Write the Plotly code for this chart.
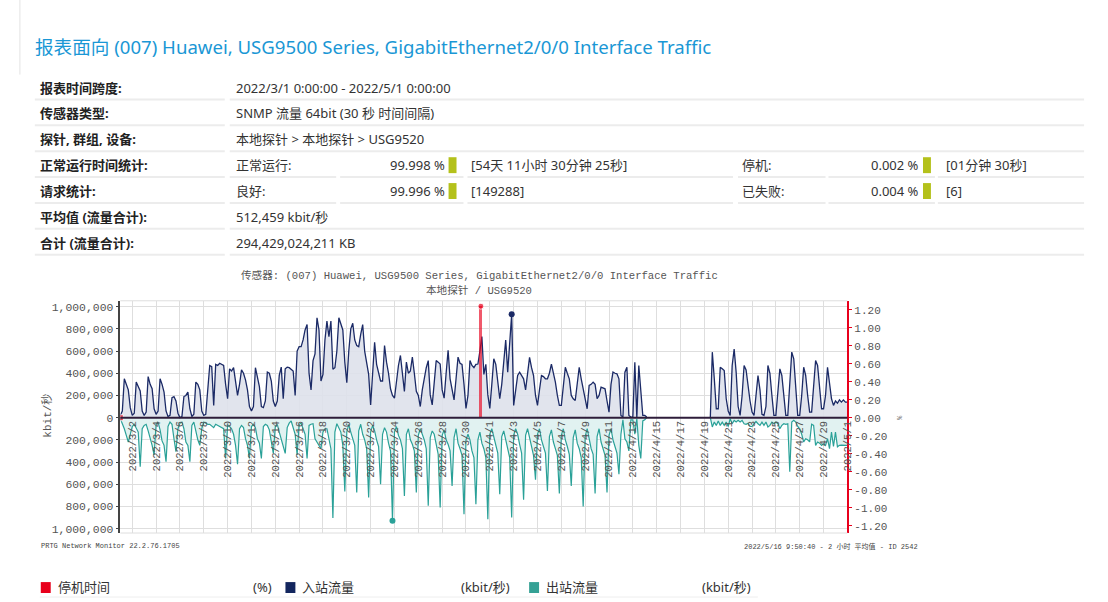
import plotly.graph_objects as go
import pandas as pd
import numpy as np

# ---------------- data ----------------
report_title = "报表面向 (007) Huawei, USG9500 Series, GigabitEthernet2/0/0 Interface Traffic"
table_labels = ["报表时间跨度:", "传感器类型:", "探针, 群组, 设备:", "正常运行时间统计:",
                "请求统计:", "平均值 (流量合计):", "合计 (流量合计):"]
table_values = ["2022/3/1 0:00:00 - 2022/5/1 0:00:00", "SNMP 流量 64bit (30 秒 时间间隔)",
                "本地探针 > 本地探针 > USG9520", None, None, "512,459 kbit/秒", "294,429,024,211 KB"]
uptime_row = ["正常运行:", "99.998 %", "[54天 11小时 30分钟 25秒]", "停机:", "0.002 %", "[01分钟 30秒]"]
request_row = ["良好:", "99.996 %", "[149288]", "已失败:", "0.004 %", "[6]"]

chart_title = ["传感器: (007) Huawei, USG9500 Series, GigabitEthernet2/0/0 Interface Traffic",
               "本地探针 / USG9520"]
footer_left = "PRTG Network Monitor 22.2.76.1705"
footer_right = "2022/5/16 9:50:40 - 2 小时 平均值 - ID 2542"
legend_names = ["停机时间", "入站流量", "出站流量"]
legend_units = ["(%)", "(kbit/秒)", "(kbit/秒)"]

x_tick_labels = ["2022/3/2", "2022/3/4", "2022/3/6", "2022/3/8", "2022/3/10", "2022/3/12",
                 "2022/3/14", "2022/3/16", "2022/3/18", "2022/3/20", "2022/3/22", "2022/3/24",
                 "2022/3/26", "2022/3/28", "2022/3/30", "2022/4/1", "2022/4/3", "2022/4/5",
                 "2022/4/7", "2022/4/9", "2022/4/11", "2022/4/13", "2022/4/15", "2022/4/17",
                 "2022/4/19", "2022/4/21", "2022/4/23", "2022/4/25", "2022/4/27", "2022/4/29",
                 "2022/5/1"]
left_ticks = [-1000000, -800000, -600000, -400000, -200000, 0, 200000, 400000, 600000, 800000, 1000000]
right_ticks = [-1.2, -1.0, -0.8, -0.6, -0.4, -0.2, 0.0, 0.2, 0.4, 0.6, 0.8, 1.0, 1.2]

period_start = "2022-03-01 00:00"
period_end = "2022-05-01 00:00"

# inbound traffic, thousand kbit/s, samples at 0h,4h,8h,12h,16h,20h of each day (3/1 .. 4/30)
N = None
inbound_k = [
    [20, 60, 350, 300, 250, 90],      # 3/1
    [20, 40, 320, 280, 240, 60],      # 3/2
    [20, 50, 370, 300, 260, 80],      # 3/3
    [30, 60, 350, 300, 230, 60],      # 3/4
    [10, 20, 180, 190, 150, 40],      # 3/5
    [0, 10, 190, 200, 230, 80],       # 3/6
    [10, 30, 320, 300, 250, 60],      # 3/7
    [20, 30, 300, 470, 460, 110],     # 3/8
    [480, 470, 490, 480, 470, 300],   # 3/9
    [170, 440, 420, 450, 300, 200],   # 3/10
    [300, 430, 400, 340, 250, 100],   # 3/11
    [60, 100, 450, 350, 280, 100],    # 3/12
    [90, 150, 410, 400, 330, 150],    # 3/13
    [100, 150, 380, 455, 170, 440],   # 3/14
    [455, 450, 430, 420, 200, 600],   # 3/15
    [640, 640, 700, 790, 840, 400],   # 3/16
    [250, 514, 575, 900, 790, 330],   # 3/17
    [390, 700, 870, 730, 870, 437],   # 3/18
    [450, 600, 900, 850, 790, 500],   # 3/19
    [314, 600, 800, 850, 700, 650],   # 3/20
    [640, 750, 838, 600, 480, 390],   # 3/21
    [114, 400, 680, 480, 400, 330],   # 3/22
    [330, 650, 500, 400, 260, 200],   # 3/23
    [175, 350, 470, 560, 400, 237],   # 3/24
    [500, 400, 420, 545, 400, 237],   # 3/25
    [200, 100, 250, 360, 450, 514],   # 3/26
    [205, 114, 300, 514, 500, 483],   # 3/27
    [250, 175, 400, 607, 350, 237],   # 3/28
    [160, 350, 545, 490, 480, 300],   # 3/29
    [83, 200, 514, 470, 450, 480],    # 3/30
    [483, 600, 730, 390, 480, 205],   # 3/31
    [83, 300, 530, 480, 300, 170],    # 4/1
    [300, 514, 700, 410, 700, 931],   # 4/2
    [110, 250, 380, 410, 380, 350],   # 4/3
    [250, 400, 543, 450, 380, 200],   # 4/4
    [110, 250, 380, 370, 350, 350],   # 4/5
    [400, 483, 400, 320, 200, 110],   # 4/6
    [110, 300, 454, 400, 350, 200],   # 4/7
    [170, 155, 300, 454, 350, 260],   # 4/8
    [150, 80, 290, 300, 320, 300],    # 4/9
    [170, 200, 275, 270, 260, 150],   # 4/10
    [50, 300, 410, 400, 395, 350],    # 4/11
    [20, 5, 410, 454, 20, 5],         # 4/12
    [5, 500, 0, 470, 200, 20],        # 4/13
    [20, 5, N, N, N, N],              # 4/14
    [N, N, N, N, N, N],               # 4/15
    [N, N, N, N, N, N],               # 4/16
    [N, N, N, N, N, N],               # 4/17
    [N, N, N, N, N, N],               # 4/18
    [N, N, N, 0, 590, 350],           # 4/19
    [80, 80, 454, 440, 425, 170],     # 4/20
    [60, 20, 470, 618, 410, 100],     # 4/21
    [20, 200, 470, 430, 280, 150],    # 4/22
    [50, 20, 200, 380, 250, 30],      # 4/23
    [20, 100, 470, 400, 200, 20],     # 4/24
    [20, 200, 440, 380, 200, 20],     # 4/25
    [20, 300, 590, 530, 250, 20],     # 4/26
    [20, 200, 454, 380, 200, 50],     # 4/27
    [50, 300, 515, 470, 250, 80],     # 4/28
    [80, 200, 454, 330, 170, 110],    # 4/29
    [150, 130, 160, 140, 160, 140],   # 4/30
]
inbound_end_k = 140  # 5/1 0h

# outbound traffic, thousand kbit/s, same sampling
outbound_k = [
    [10, 50, 100, 160, 220, 150],     # 3/1
    [80, 60, 90, 130, 442, 100],      # 3/2
    [70, 60, 120, 180, 250, 337],     # 3/3
    [60, 40, 110, 210, 250, 397],     # 3/4
    [80, 40, 60, 190, 307, 100],      # 3/5
    [50, 40, 100, 220, 250, 397],     # 3/6
    [70, 40, 130, 200, 250, 100],     # 3/7
    [40, 50, 60, 60, 80, 90],         # 3/8
    [60, 70, 80, 90, 100, 367],       # 3/9
    [70, 80, 100, 150, 250, 420],     # 3/10
    [100, 70, 90, 190, 250, 367],     # 3/11
    [80, 60, 90, 190, 230, 367],      # 3/12
    [80, 60, 70, 110, 200, 322],      # 3/13
    [80, 60, 130, 200, 250, 322],     # 3/14
    [90, 50, 30, 80, 150, 337],       # 3/15
    [60, 50, 100, 150, 367, 70],      # 3/16
    [60, 55, 190, 220, 250, 280],     # 3/17
    [130, 100, 100, 200, 280, 905],   # 3/18
    [130, 55, 100, 130, 250, 665],    # 3/19
    [130, 60, 130, 190, 250, 675],    # 3/20
    [120, 60, 150, 200, 280, 720],    # 3/21
    [130, 70, 120, 200, 260, 600],    # 3/22
    [150, 90, 130, 230, 300, 930],    # 3/23
    [130, 80, 160, 200, 280, 705],    # 3/24
    [150, 100, 200, 240, 300, 675],   # 3/25
    [160, 100, 150, 200, 280, 795],   # 3/26
    [180, 120, 150, 230, 330, 810],   # 3/27
    [160, 110, 200, 240, 300, 615],   # 3/28
    [180, 100, 230, 280, 340, 870],   # 3/29
    [200, 150, 200, 300, 360, 780],   # 3/30
    [200, 130, 230, 280, 360, 915],   # 3/31
    [150, 100, 180, 260, 320, 690],   # 4/1
    [170, 120, 200, 280, 360, 900],   # 4/2
    [160, 100, 150, 240, 320, 740],   # 4/3
    [160, 100, 180, 280, 340, 560],   # 4/4
    [150, 100, 200, 260, 320, 660],   # 4/5
    [170, 110, 220, 280, 340, 684],   # 4/6
    [160, 100, 200, 260, 330, 615],   # 4/7
    [180, 110, 230, 280, 360, 800],   # 4/8
    [170, 100, 200, 280, 330, 684],   # 4/9
    [170, 100, 220, 280, 340, 675],   # 4/10
    [160, 100, 200, 260, 320, 510],   # 4/11
    [150, 20, 190, 220, 300, 20],     # 4/12
    [20, 150, 10, 250, 367, 30],      # 4/13
    [20, 0, N, N, N, N],              # 4/14
    [N, N, N, N, N, N],               # 4/15
    [N, N, N, N, N, N],               # 4/16
    [N, N, N, N, N, N],               # 4/17
    [N, N, N, N, N, N],               # 4/18
    [N, N, N, 0, 84, 40],             # 4/19
    [70, 30, 70, 40, 70, 40],         # 4/20
    [80, 10, 55, 25, 40, 25],         # 4/21
    [40, 25, 55, 60, 50, 80],         # 4/22
    [80, 55, 35, 55, 70, 40],         # 4/23
    [70, 40, 85, 70, 40, 55],         # 4/24
    [40, 55, 100, 70, 55, 60],        # 4/25
    [55, 487, 40, 25, 40, 80],        # 4/26
    [100, 150, 218, 190, 200, 218],   # 4/27
    [60, 70, 250, 220, 230, 250],     # 4/28
    [235, 250, 190, 280, 130, 260],   # 4/29
    [130, 263, 250, 248, 250, 250],   # 4/30
]
outbound_end_k = 250  # 5/1 0h

downtime_time = ["2022-03-01 00:00", "2022-03-31 06:00"]
downtime_pct = [0.0, 1.24]

# ---------------- build series ----------------
times = pd.date_range(period_start, period_end, freq="4h")
inbound = [v * 1000 if v is not None else None for day in inbound_k for v in day] + [inbound_end_k * 1000]
outbound = [v * 1000 if v is not None else None for day in outbound_k for v in day] + [outbound_end_k * 1000]
outbound_neg = [-v if v is not None else None for v in outbound]

W, H = 1108, 602
def px(x): return x / W
def py(y): return 1 - y / H

SANS = "Noto Sans, Noto Sans CJK SC, sans-serif"
MONO = "Liberation Mono, Noto Sans CJK SC, monospace"
C_IN = "#1b2a66"
C_OUT = "#2aa198"
C_RED = "#e8001c"
GRID = "#dedede"

fig = go.Figure()

fig.add_trace(go.Scatter(x=times, y=outbound_neg, mode="lines", fill="tozeroy",
                         fillcolor="rgba(222,241,240,0.9)", line=dict(color=C_OUT, width=1.2),
                         connectgaps=False, hoverinfo="skip"))
fig.add_trace(go.Scatter(x=times, y=inbound, mode="lines", fill="tozeroy",
                         fillcolor="rgba(222,225,235,0.9)", line=dict(color=C_IN, width=1.3),
                         connectgaps=False, hoverinfo="skip"))

# downtime (right axis)
dt_times = pd.to_datetime(downtime_time)
fig.add_trace(go.Bar(x=dt_times, y=downtime_pct, yaxis="y2", width=7 * 3600 * 1000,
                     marker=dict(color="rgba(232,0,28,0.65)", line=dict(width=0)), hoverinfo="skip"))
fig.add_trace(go.Scatter(x=dt_times, y=downtime_pct, yaxis="y2", mode="markers",
                         marker=dict(color=C_RED, size=[6, 6], symbol=["square", "circle"]),
                         hoverinfo="skip"))

# max markers
in_vals = np.array([np.nan if v is None else v for v in inbound], dtype=float)
out_vals = np.array([np.nan if v is None else v for v in outbound], dtype=float)
i_in = int(np.nanargmax(in_vals))
i_out = int(np.nanargmax(out_vals))
fig.add_trace(go.Scatter(x=[times[i_in]], y=[inbound[i_in]], mode="markers",
                         marker=dict(color=C_IN, size=6), hoverinfo="skip"))
fig.add_trace(go.Scatter(x=[times[i_out]], y=[outbound_neg[i_out]], mode="markers",
                         marker=dict(color=C_OUT, size=6), hoverinfo="skip"))

# helper trace for the label axis
tick_dates = pd.to_datetime(x_tick_labels, format="%Y/%m/%d")
fig.add_trace(go.Scatter(x=tick_dates, y=[None] * len(tick_dates), xaxis="x2", mode="markers",
                         showlegend=False, hoverinfo="skip"))

x0_px, x1_px = 121, 852
top_px, bot_px = 302.3, 535.7
xr = [pd.Timestamp(period_start), pd.Timestamp(period_end)]

fig.update_layout(
    width=W, height=H, autosize=False,
    margin=dict(l=0, r=0, t=0, b=0),
    paper_bgcolor="white", plot_bgcolor="white",
    showlegend=False, bargap=0,
    font=dict(family=SANS, color="#333"),
    xaxis=dict(domain=[px(x0_px), px(x1_px)], range=xr, type="date", tickvals=tick_dates,
               showticklabels=False, showgrid=True, gridcolor=GRID, gridwidth=1,
               ticks="", zeroline=False, showline=False, anchor="y"),
    xaxis2=dict(domain=[px(x0_px), px(x1_px)], range=xr, type="date", overlaying="x",
                anchor="free", position=py(420), side="bottom",
                tickvals=tick_dates, ticktext=x_tick_labels, tickangle=-90,
                tickfont=dict(family=MONO, size=10.5, color="#555"),
                showgrid=False, showline=False, ticks="", zeroline=False),
    yaxis=dict(domain=[py(bot_px), py(top_px)], range=[-1.04e6, 1.053e6],
               tickvals=left_ticks, ticktext=[f"{abs(v):,}" for v in left_ticks],
               tickfont=dict(family=MONO, size=11.4, color="#555"),
               ticks="outside", ticklen=3, tickcolor="#444",
               showline=True, linecolor="#444", linewidth=1.5,
               showgrid=True, gridcolor=GRID, gridwidth=1, zeroline=False),
    yaxis2=dict(overlaying="y", side="right", anchor="x", range=[-1.282, 1.30],
                tickvals=right_ticks, ticktext=[f"{v:.2f}" for v in right_ticks],
                tickfont=dict(family=MONO, size=11, color="#555"),
                ticks="outside", ticklen=3, tickcolor=C_RED,
                showline=True, linecolor=C_RED, linewidth=1.5,
                showgrid=False, zeroline=False),
)

shapes = []
# plot border top/bottom
for yy in (top_px, bot_px):
    shapes.append(dict(type="line", xref="paper", yref="paper", x0=px(x0_px), x1=px(x1_px),
                       y0=py(yy), y1=py(yy), line=dict(color=GRID, width=1)))
# zero line
shapes.append(dict(type="line", xref="paper", yref="y", x0=px(x0_px), x1=px(x1_px), y0=0, y1=0,
                   line=dict(color="#2e1c3a", width=2), layer="above"))
# page border line
shapes.append(dict(type="line", xref="paper", yref="paper", x0=px(20), x1=px(20), y0=py(0), y1=py(75),
                   line=dict(color="#e4e4e4", width=1)))

annots = []
def text(x, y, s, size=13, color="#333", anchor="left", family=SANS, angle=0):
    annots.append(dict(x=px(x), y=py(y), xref="paper", yref="paper", text=s, showarrow=False,
                       xanchor=anchor, yanchor="middle", textangle=angle,
                       font=dict(family=family, size=size, color=color)))

# title
text(33, 47, report_title, size=18.6, color="#1a97d5")

# table
row_y = [88, 114, 140, 166, 192, 218, 244]
split_cols = [(231, 338), (342, 466), (470, 737), (742, 830), (833, 940), (943, 1090)]
for i, (lab, val) in enumerate(zip(table_labels, table_values)):
    y = row_y[i]
    text(38, y, f"<b>{lab}</b>", size=13, color="#222")
    ul = y + 12
    shapes.append(dict(type="line", xref="paper", yref="paper", x0=px(35), x1=px(226), y0=py(ul), y1=py(ul),
                       line=dict(color="#ececec", width=2)))
    if val is not None:
        text(235, y, val, size=13)
        shapes.append(dict(type="line", xref="paper", yref="paper", x0=px(231), x1=px(1090),
                           y0=py(ul), y1=py(ul), line=dict(color="#ececec", width=2)))
    else:
        row = uptime_row if i == 3 else request_row
        for (a, b) in split_cols:
            shapes.append(dict(type="line", xref="paper", yref="paper", x0=px(a), x1=px(b),
                               y0=py(ul), y1=py(ul), line=dict(color="#ececec", width=2)))
        text(235, y, row[0])
        text(449, y, row[1], anchor="right")
        text(472, y, row[2])
        text(744, y, row[3])
        text(926, y, row[4], anchor="right")
        text(949, y, row[5])
        for bx in (451, 928):
            shapes.append(dict(type="rect", xref="paper", yref="paper", x0=px(bx), x1=px(bx + 8),
                               y0=py(y + 8), y1=py(y - 8), fillcolor="#b4c11b", line=dict(width=0)))

# chart title
text(482, 277, chart_title[0], size=10.6, color="#555", anchor="center", family=MONO)
text(482, 292, chart_title[1], size=10.6, color="#555", anchor="center", family=MONO)
# axis titles
text(47, 418, "kbit/秒", size=11, color="#555", anchor="center", family=MONO, angle=-90)
text(904, 420, "%", size=7, color="#777", anchor="center", family=MONO, angle=90)
# footers
text(39, 549, footer_left, size=7, color="#444", family=MONO)
text(925, 549, footer_right, size=7, color="#444", anchor="right", family=MONO)

# legend
leg_colors = [C_RED, "#13265e", "#35a195"]
leg_sq_x = [41, 287, 532]
leg_unit_x = [275, 515, 757]
for name, unit, c, sx, ux in zip(legend_names, legend_units, leg_colors, leg_sq_x, leg_unit_x):
    shapes.append(dict(type="rect", xref="paper", yref="paper", x0=px(sx), x1=px(sx + 10),
                       y0=py(596), y1=py(585), fillcolor=c, line=dict(width=0)))
    text(sx + 15, 590, name, size=13)
    text(ux, 590, unit, size=13, anchor="right")
shapes.append(dict(type="line", xref="paper", yref="paper", x0=px(40), x1=px(762), y0=py(600), y1=py(600),
                   line=dict(color="#eeeeee", width=1)))

fig.update_layout(shapes=shapes, annotations=annots)

fig.write_html("out.html", include_plotlyjs=True, full_html=True,
               config={"displayModeBar": False},
               post_script="document.body.style.margin='0px';document.body.style.overflow='hidden';")
